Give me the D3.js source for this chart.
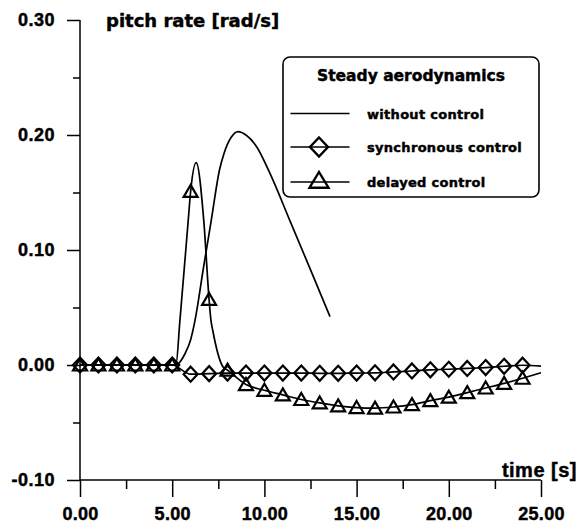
<!DOCTYPE html>
<html>
<head>
<meta charset="utf-8">
<script src="https://cdn.jsdelivr.net/npm/d3@7"></script>
<style>
  html, body { margin: 0; padding: 0; background: #fff; }
  svg { display: block; }
  text { font-family: "Liberation Sans", Arial, sans-serif; font-weight: bold; fill: #000; }
</style>
</head>
<body>
<svg id="chart" width="584" height="529"></svg>
<script>
// ---------- data ----------
const xTicks = [0, 5, 10, 15, 20, 25];
const xMinorTicks = [2.5, 7.5, 12.5, 17.5, 22.5];
const yTicks = [-0.1, 0.0, 0.1, 0.2, 0.3];
const yMinorTicks = [-0.05, 0.05, 0.15, 0.25];

// without control (line only)
const withoutT = [0, 5, 5.3, 5.7, 6.0, 6.24, 6.7, 7.12, 7.57, 7.81, 8.2, 8.57, 9.0, 9.57, 10.29, 11.37, 12.47, 13.56];
const withoutV = [0, 0, 0.001, 0.01, 0.022, 0.039, 0.085, 0.126, 0.170, 0.184, 0.198, 0.203, 0.200, 0.190, 0.167, 0.126, 0.084, 0.042];

// synchronous control: markers (diamonds) and line
const syncMarkT = [0,1,2,3,4,5,6,7,8,9,10,11,12,13,14,15,16,17,18,19,20,21,22,23,24];
const syncMarkV = [0,0,0,0,0,0,-0.008,-0.0075,-0.007,-0.007,-0.007,-0.007,-0.007,-0.0072,-0.0072,-0.007,-0.0068,-0.006,-0.0052,-0.0042,-0.0037,-0.003,-0.0022,-0.0011,-0.0002];
const syncLineT = [0,1,2,3,4,5,6,7,8,9,10,11,12,13,14,15,16,17,18,19,20,21,22,23,24,25];
const syncLineV = [0,0,0,0,0,0,-0.008,-0.0075,-0.007,-0.007,-0.007,-0.007,-0.007,-0.0072,-0.0072,-0.007,-0.0068,-0.006,-0.0052,-0.0042,-0.0037,-0.003,-0.0022,-0.0011,-0.0002,-0.001];

// delayed control: markers (triangles) and line
const delayMarkT = [0,1,2,3,4,5,6,7,8,9,10,11,12,13,14,15,16,17,18,19,20,21,22,23,24];
const delayMarkV = [0,0,0,0,0,0,0.151,0.057,-0.0045,-0.017,-0.022,-0.026,-0.030,-0.033,-0.0355,-0.037,-0.0375,-0.0365,-0.0345,-0.031,-0.028,-0.024,-0.020,-0.016,-0.0115];
const delayLineT = [0,1,2,3,4,5,5.2,5.42,5.87,6.0,6.3,6.71,7.0,7.1,7.2,7.75,8,9,10,11,12,13,14,15,16,17,18,19,20,21,22,23,24,25];
const delayLineV = [0,0,0,0,0,0,0.0,0.039,0.126,0.151,0.176,0.126,0.057,0.039,0.030,-0.0015,-0.0045,-0.017,-0.022,-0.026,-0.030,-0.033,-0.0355,-0.037,-0.0375,-0.0365,-0.0345,-0.031,-0.028,-0.024,-0.020,-0.016,-0.0115,-0.0067];

const legendTitle = "Steady aerodynamics";
const legendLabels = ["without control", "synchronous control", "delayed control"];
const legendSymbols = ["none", "diamond", "triangle"];
const yTitle = "pitch rate [rad/s]";
const xTitle = "time [s]";

// ---------- drawing ----------
const svg = d3.select("#chart");
const x = d3.scaleLinear().domain([0, 25]).range([80, 541]);
const y = d3.scaleLinear().domain([-0.1, 0.3]).range([480, 20]);
const fmt = d => d.toFixed(2);
const SANS = '"Liberation Sans", Arial, sans-serif';
const WIDE = '"DejaVu Sans", Verdana, sans-serif';

function heavy(sel) {
  sel.attr("stroke", "#000").attr("stroke-width", 0.45).attr("paint-order", "stroke");
}

// y axis (major)
const gy = svg.append("g").attr("transform", "translate(80,0)")
  .call(d3.axisLeft(y).tickValues(yTicks).tickSize(13).tickPadding(12).tickFormat(fmt));
gy.select(".domain").remove();
gy.selectAll("line").attr("stroke", "#000").attr("stroke-width", 1.5);
gy.selectAll("text").style("font-size", "18px").style("letter-spacing", "0.5px").attr("fill", "#000")
  .style("font-family", SANS).call(heavy);
// y axis (minor)
const gym = svg.append("g").attr("transform", "translate(80,0)")
  .call(d3.axisLeft(y).tickValues(yMinorTicks).tickSize(7).tickFormat(""));
gym.select(".domain").remove();
gym.selectAll("line").attr("stroke", "#000").attr("stroke-width", 1.5);

// x axis (major)
const gx = svg.append("g").attr("transform", "translate(0,480)")
  .call(d3.axisBottom(x).tickValues(xTicks).tickSize(17).tickPadding(10).tickFormat(fmt));
gx.select(".domain").remove();
gx.selectAll("line").attr("stroke", "#000").attr("stroke-width", 1.5);
gx.selectAll("text").style("font-size", "18px").style("letter-spacing", "0.3px").attr("fill", "#000")
  .style("font-family", SANS).call(heavy);
// x axis (minor)
const gxm = svg.append("g").attr("transform", "translate(0,480)")
  .call(d3.axisBottom(x).tickValues(xMinorTicks).tickSize(9).tickFormat(""));
gxm.select(".domain").remove();
gxm.selectAll("line").attr("stroke", "#000").attr("stroke-width", 1.5);

// axis lines
svg.append("line").attr("x1", x(0)).attr("x2", x(0)).attr("y1", y(0.3)).attr("y2", y(-0.1))
  .attr("stroke", "#000").attr("stroke-width", 1.5);
svg.append("line").attr("x1", x(0)).attr("x2", x(25)).attr("y1", y(-0.1)).attr("y2", y(-0.1))
  .attr("stroke", "#000").attr("stroke-width", 1.5);

// titles
svg.append("text").attr("x", 106).attr("y", 27).text(yTitle)
  .style("font-family", WIDE).style("font-size", "18px").style("letter-spacing", "0px").call(heavy);
svg.append("text").attr("x", 577).attr("y", 477).attr("text-anchor", "end").text(xTitle)
  .style("font-size", "20px").style("letter-spacing", "0.5px").call(heavy);

// lines
const line = d3.line().x(d => x(d[0])).y(d => y(d[1])).curve(d3.curveMonotoneX);
const zip = (a, b) => a.map((v, i) => [v, b[i]]);
const plot = svg.append("g");
[[withoutT, withoutV], [syncLineT, syncLineV], [delayLineT, delayLineV]].forEach(([t, v]) => {
  plot.append("path").datum(zip(t, v)).attr("d", line)
    .attr("fill", "none").attr("stroke", "#000").attr("stroke-width", 1.7);
});

// markers
function diamondPath(w, h) {
  return `M0,${-h}L${w},0L0,${h}L${-w},0Z`;
}
function trianglePath(w, up, down) {
  return `M0,${-up}L${w},${down}L${-w},${down}Z`;
}
plot.selectAll(".dia").data(zip(syncMarkT, syncMarkV)).enter().append("path")
  .attr("transform", d => `translate(${x(d[0])},${y(d[1])})`)
  .attr("d", diamondPath(7, 7.5))
  .attr("fill", "none").attr("stroke", "#000").attr("stroke-width", 2.2);
plot.selectAll(".tri").data(zip(delayMarkT, delayMarkV)).enter().append("path")
  .attr("transform", d => `translate(${x(d[0])},${y(d[1])})`)
  .attr("d", trianglePath(7, 6.5, 5.5))
  .attr("fill", "none").attr("stroke", "#000").attr("stroke-width", 2.2);

// legend
const lg = svg.append("g");
lg.append("rect").attr("x", 283).attr("y", 57).attr("width", 256).attr("height", 140).attr("rx", 7)
  .attr("fill", "#fff").attr("stroke", "#000").attr("stroke-width", 1.6);
lg.append("text").attr("x", 411).attr("y", 81).attr("text-anchor", "middle").text(legendTitle)
  .style("font-family", WIDE).style("font-size", "15.5px").call(heavy);
const rowY = [113.5, 147, 182];
legendLabels.forEach((lab, i) => {
  const ry = rowY[i];
  lg.append("line").attr("x1", 290.5).attr("x2", 349.5).attr("y1", ry).attr("y2", ry)
    .attr("stroke", "#000").attr("stroke-width", 1.6);
  if (legendSymbols[i] === "diamond") {
    lg.append("path").attr("transform", `translate(319,${ry})`).attr("d", diamondPath(9, 9.5))
      .attr("fill", "none").attr("stroke", "#000").attr("stroke-width", 2.4);
  } else if (legendSymbols[i] === "triangle") {
    lg.append("path").attr("transform", `translate(319,${ry})`).attr("d", trianglePath(9.5, 10, 5.7))
      .attr("fill", "none").attr("stroke", "#000").attr("stroke-width", 2.4);
  }
  lg.append("text").attr("x", 367).attr("y", ry + 5).text(lab)
    .style("font-family", WIDE).style("font-size", "13px").style("letter-spacing", "0.3px").call(heavy);
});
</script>
</body>
</html>
